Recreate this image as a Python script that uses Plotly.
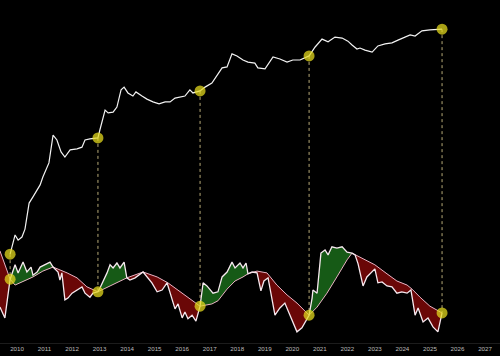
import plotly.graph_objects as go

# ---- data (decimal years) ----
price_x = [2009.75, 2009.93, 2010.04, 2010.18, 2010.29, 2010.44, 2010.58, 2010.84, 2010.94, 2011.16,
           2011.31, 2011.45, 2011.60, 2011.74, 2011.93, 2012.18, 2012.36, 2012.47, 2012.65, 2012.94,
           2013.01, 2013.20, 2013.31, 2013.49, 2013.63, 2013.78, 2013.89, 2014.03, 2014.21, 2014.32,
           2014.54, 2014.72, 2014.94, 2015.16, 2015.38, 2015.56, 2015.74, 2015.92, 2016.10, 2016.28,
           2016.39, 2016.65, 2016.83, 2017.08, 2017.27, 2017.45, 2017.63, 2017.81, 2017.99, 2018.21,
           2018.39, 2018.64, 2018.75, 2019.01, 2019.30, 2019.55, 2019.81, 2020.02, 2020.28, 2020.61,
           2020.83, 2021.08, 2021.30, 2021.55, 2021.81, 2022.02, 2022.17, 2022.35, 2022.46, 2022.64,
           2022.90, 2023.11, 2023.37, 2023.62, 2023.84, 2024.09, 2024.28, 2024.46, 2024.71, 2025.00,
           2025.18, 2025.44]
price_y = [25.9, 31.5, 30.0, 30.9, 33.2, 40.8, 42.6, 46.1, 48.4, 52.5,
           60.6, 59.2, 55.7, 54.2, 56.3, 56.6, 57.1, 59.2, 59.5, 59.8,
           62.1, 67.9, 67.1, 67.3, 68.8, 73.8, 74.6, 72.9, 72.0, 73.2,
           72.0, 71.1, 70.3, 69.7, 70.3, 70.3, 71.4, 71.7, 72.0, 73.8,
           72.9, 73.5, 74.6, 75.8, 78.1, 80.2, 80.5, 84.3, 83.7, 82.5,
           81.9, 81.6, 80.2, 79.9, 83.4, 82.8, 81.9, 82.5, 82.5, 83.7,
           86.3, 88.6, 87.8, 89.2, 88.9, 88.0, 86.9, 85.7, 86.0, 85.4,
           84.8, 86.6, 87.2, 87.5, 88.3, 89.2, 89.8, 89.5, 91.0, 91.3,
           91.3, 91.5]

osc_x = [2009.38, 2009.56, 2009.75, 2009.85, 2009.93, 2010.04, 2010.22, 2010.36, 2010.51, 2010.58,
         2010.73, 2010.84, 2011.02, 2011.20, 2011.31, 2011.49, 2011.56, 2011.63, 2011.74, 2011.85,
         2012.00, 2012.18, 2012.36, 2012.47, 2012.65, 2012.76, 2012.94, 2013.01, 2013.16, 2013.27,
         2013.38, 2013.49, 2013.63, 2013.74, 2013.89, 2013.99, 2014.10, 2014.29, 2014.58, 2014.90,
         2015.09, 2015.27, 2015.45, 2015.63, 2015.74, 2015.85, 2016.00, 2016.10, 2016.21, 2016.36,
         2016.50, 2016.65, 2016.76, 2016.90, 2017.01, 2017.12, 2017.30, 2017.45, 2017.63, 2017.81,
         2017.92, 2018.10, 2018.21, 2018.32, 2018.39, 2018.54, 2018.72, 2018.86, 2018.97, 2019.12,
         2019.37, 2019.55, 2019.73, 2019.92, 2020.17, 2020.35, 2020.46, 2020.61, 2020.72, 2020.75,
         2020.90, 2021.04, 2021.19, 2021.30, 2021.44, 2021.62, 2021.81, 2021.99, 2022.17, 2022.28,
         2022.39, 2022.57, 2022.71, 2022.90, 2023.00, 2023.11, 2023.26, 2023.44, 2023.62, 2023.80,
         2023.98, 2024.17, 2024.31, 2024.46, 2024.57, 2024.75, 2024.93, 2025.11, 2025.29, 2025.44]
osc_y = [-0.38, -0.62, 0.24, 0.40, 0.56, 0.38, 0.62, 0.40, 0.51, 0.33,
         0.40, 0.51, 0.56, 0.62, 0.51, 0.40, 0.22, 0.38, -0.22, -0.18,
         -0.07, 0.00, 0.07, -0.07, -0.16, -0.07, -0.04, 0.04, 0.22, 0.38,
         0.56, 0.49, 0.60, 0.49, 0.62, 0.27, 0.22, 0.27, 0.40, 0.16,
         -0.04, 0.00, 0.16, -0.18, -0.42, -0.31, -0.62, -0.49, -0.64, -0.56,
         -0.69, -0.36, 0.16, 0.09, 0.02, -0.07, -0.04, 0.29, 0.40, 0.62,
         0.49, 0.60, 0.49, 0.60, 0.36, 0.40, 0.38, -0.02, 0.20, 0.27,
         -0.56, -0.40, -0.29, -0.58, -0.93, -0.84, -0.71, -0.56, -0.18, 0.00,
         -0.07, 0.82, 0.89, 0.78, 0.96, 0.93, 0.96, 0.84, 0.82, 0.78,
         0.58, 0.09, 0.29, 0.40, 0.47, 0.16, 0.18, 0.09, 0.07, -0.07,
         -0.04, -0.07, 0.00, -0.56, -0.40, -0.71, -0.62, -0.82, -0.93, -0.51]

smooth_x = [2009.38, 2009.75, 2009.93, 2010.29, 2010.58, 2010.94, 2011.31, 2011.82, 2012.18, 2012.54,
            2012.94, 2013.38, 2013.74, 2013.99, 2014.58, 2015.09, 2015.48, 2015.74, 2016.10, 2016.47,
            2016.65, 2017.08, 2017.30, 2017.63, 2017.92, 2018.21, 2018.39, 2018.72, 2019.08, 2019.44,
            2019.81, 2020.17, 2020.61, 2020.90, 2021.26, 2021.62, 2021.99, 2022.17, 2022.57, 2023.00,
            2023.44, 2023.80, 2024.17, 2024.35, 2024.64, 2025.00, 2025.44]
smooth_y = [0.87, 0.24, 0.11, 0.20, 0.29, 0.42, 0.51, 0.38, 0.27, 0.07,
            -0.04, 0.09, 0.20, 0.27, 0.40, 0.29, 0.16, 0.04, -0.11, -0.29,
            -0.36, -0.31, -0.24, 0.02, 0.20, 0.29, 0.36, 0.42, 0.38, 0.11,
            -0.11, -0.29, -0.56, -0.38, -0.07, 0.29, 0.67, 0.82, 0.69, 0.56,
            0.36, 0.20, 0.11, 0.02, -0.16, -0.36, -0.51]

cross_x = [2009.75, 2011.31, 2012.94, 2013.99, 2016.65, 2018.39, 2020.61, 2022.17]
signal_x = [2009.75, 2012.94, 2016.65, 2020.61, 2025.44]

years = list(range(2010, 2028))
year_labels = [str(y) for y in years]

# ---- axis ranges ----
X_RANGE = [2009.3825, 2027.545]
P_RANGE = [0, 100]
O_RANGE = [-1.1778, 6.4444]

GREEN = "#165a16"
RED = "#6a0707"

fig = go.Figure()

# fills between oscillator and its smooth line
bounds = [osc_x[0]] + cross_x + [osc_x[-1]]
for a, b in zip(bounds[:-1], bounds[1:]):
    ox = [x for x in osc_x if a <= x <= b]
    oy = [y for x, y in zip(osc_x, osc_y) if a <= x <= b]
    sx = [x for x in smooth_x if a <= x <= b]
    sy = [y for x, y in zip(smooth_x, smooth_y) if a <= x <= b]
    up = sum(oy) / len(oy) > sum(sy) / len(sy)
    fig.add_trace(go.Scatter(
        x=ox + sx[::-1], y=oy + sy[::-1], yaxis="y2", mode="lines",
        fill="toself", fillcolor=GREEN if up else RED,
        line=dict(width=0), hoverinfo="skip", showlegend=False))

fig.add_trace(go.Scatter(x=smooth_x, y=smooth_y, yaxis="y2", mode="lines",
                         line=dict(color="#e9b3c4", width=1), hoverinfo="skip", showlegend=False))
fig.add_trace(go.Scatter(x=osc_x, y=osc_y, yaxis="y2", mode="lines",
                         line=dict(color="#f6e8ee", width=1.3), hoverinfo="skip", showlegend=False))
fig.add_trace(go.Scatter(x=price_x, y=price_y, yaxis="y", mode="lines",
                         line=dict(color="#f2f2f2", width=1.2), hoverinfo="skip", showlegend=False))

# signal markers and dashed connectors
top_vals = [price_y[price_x.index(s)] for s in signal_x]
bot_vals = [smooth_y[smooth_x.index(s)] for s in signal_x]


def to_paper(v, r):
    return (v - r[0]) / (r[1] - r[0])


for s, tv, bv in zip(signal_x, top_vals, bot_vals):
    fig.add_shape(type="line", xref="x", yref="paper", x0=s, x1=s,
                  y0=to_paper(tv, P_RANGE), y1=to_paper(bv, O_RANGE),
                  line=dict(color="rgba(215,200,140,0.85)", width=1, dash="3px,3px"),
                  layer="below")

fig.add_trace(go.Scatter(x=signal_x, y=top_vals, yaxis="y", mode="markers",
                         marker=dict(size=11, color="rgba(225,215,30,0.75)", line=dict(width=0)),
                         hoverinfo="skip", showlegend=False))
fig.add_trace(go.Scatter(x=signal_x, y=bot_vals, yaxis="y2", mode="markers",
                         marker=dict(size=11, color="rgba(225,215,30,0.75)", line=dict(width=0)),
                         hoverinfo="skip", showlegend=False))

fig.update_layout(
    width=500, height=356,
    margin=dict(l=0, r=0, t=0, b=13),
    paper_bgcolor="black", plot_bgcolor="black",
    showlegend=False,
    xaxis=dict(range=X_RANGE, tickmode="array", tickvals=years, ticktext=year_labels,
               tickfont=dict(family="Liberation Sans", size=6.2, color="#bdbdbd"),
               showgrid=False, zeroline=False, showline=True, linecolor="#1c1c1c",
               linewidth=1, ticks=""),
    yaxis=dict(range=P_RANGE, visible=False, showgrid=False, zeroline=False),
    yaxis2=dict(range=O_RANGE, overlaying="y", visible=False, showgrid=False, zeroline=False),
)

fig.write_html("out.html", config={"displayModeBar": False, "staticPlot": True},
               post_script="document.body.style.margin='0';document.body.style.background='black';")
